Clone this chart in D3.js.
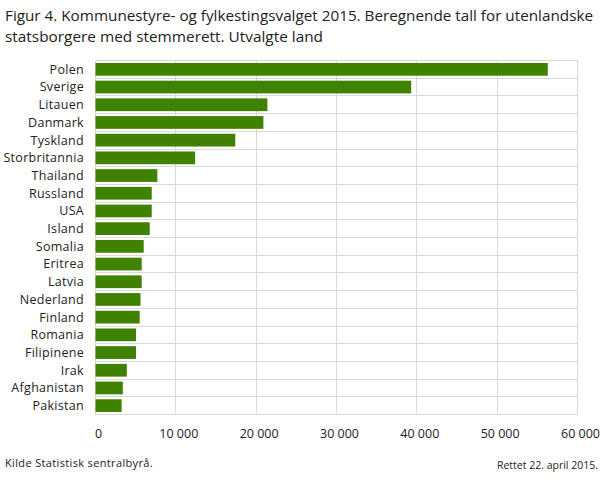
<!DOCTYPE html>
<html>
<head>
<meta charset="utf-8">
<script src="https://cdn.jsdelivr.net/npm/d3@7"></script>
<style>
  body { margin: 0; background: #fff; }
  svg text { font-family: "Open Sans", sans-serif; fill: #222; }
  .grid line { stroke: #d9d9d9; stroke-width: 1; shape-rendering: crispEdges; }
</style>
</head>
<body>
<svg id="chart" width="609" height="488"></svg>
<script>
var countries = ["Polen", "Sverige", "Litauen", "Danmark", "Tyskland", "Storbritannia",
  "Thailand", "Russland", "USA", "Island", "Somalia", "Eritrea", "Latvia", "Nederland",
  "Finland", "Romania", "Filipinene", "Irak", "Afghanistan", "Pakistan"];
var voters = [56300, 39300, 21400, 20900, 17400, 12400, 7700, 7000, 7000, 6750,
  6000, 5750, 5750, 5600, 5500, 5050, 5050, 3900, 3400, 3250];
var xTicks = [0, 10000, 20000, 30000, 40000, 50000, 60000];
var titleLines = ["Figur 4. Kommunestyre- og fylkestingsvalget 2015. Beregnende tall for utenlandske",
  "statsborgere med stemmerett. Utvalgte land"];
var source = "Kilde Statistisk sentralbyrå.";
var note = "Rettet 22. april 2015.";

var svg = d3.select("#chart");
var plotLeft = 95.5, plotRight = 577.5, plotTop = 60.5, plotBottom = 414.5;

var x = d3.scaleLinear().domain([0, 60000]).range([plotLeft, plotRight]);
var y = d3.scaleBand().domain(countries).range([plotTop, plotBottom]).paddingInner(0.28).paddingOuter(0.14);
var fmt = function(d) { return d3.format(",")(d).replace(/,/g, " "); };

// title, squeezed to the width of the original
svg.selectAll(".title").data(titleLines).enter().append("text")
  .attr("x", 5).attr("y", function(d, i) { return 21 + i * 21; })
  .style("font-size", "15px")
  .attr("textLength", function(d, i) { return i === 0 ? 588 : 318; })
  .attr("lengthAdjust", "spacingAndGlyphs")
  .text(function(d) { return d; });

var grid = svg.append("g").classed("grid", true);
var step = (plotBottom - plotTop) / countries.length;
grid.selectAll(".h").data(d3.range(countries.length + 1)).enter().append("line")
  .attr("x1", plotLeft).attr("x2", plotRight)
  .attr("y1", function(n) { return plotTop + step * n; })
  .attr("y2", function(n) { return plotTop + step * n; });
grid.selectAll(".v").data(xTicks).enter().append("line")
  .attr("x1", function(d) { return x(d); }).attr("x2", function(d) { return x(d); })
  .attr("y1", plotTop).attr("y2", plotBottom);

svg.append("g").selectAll("rect").data(countries).enter().append("rect")
  .attr("x", x(0))
  .attr("y", function(d) { return y(d); })
  .attr("height", y.bandwidth())
  .attr("width", function(d, i) { return x(voters[i]) - x(0); })
  .attr("fill", "#3f8200");

svg.append("g").selectAll("text").data(countries).enter().append("text")
  .attr("x", 84)
  .attr("y", function(d) { return y(d) + y.bandwidth() / 2; })
  .attr("dy", "0.35em")
  .attr("text-anchor", "end")
  .style("font-size", "12.5px")
  .style("letter-spacing", "0.3px")
  .text(function(d) { return d; });

svg.append("g").selectAll("text").data(xTicks).enter().append("text")
  .attr("x", function(d) { return x(d) + 3; })
  .attr("y", 438)
  .attr("text-anchor", "middle")
  .style("font-size", "12.5px")
  .text(fmt);

svg.append("text").attr("x", 5).attr("y", 467)
  .style("font-size", "11px").style("letter-spacing", "0.35px").text(source);
svg.append("text").attr("x", 598).attr("y", 469).attr("text-anchor", "end")
  .style("font-size", "10.5px").text(note);
</script>
</body>
</html>
